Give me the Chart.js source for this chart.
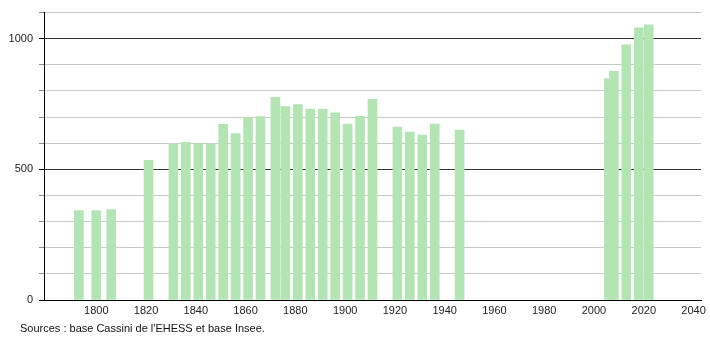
<!DOCTYPE html>
<html>
<head>
<meta charset="utf-8">
<script src="https://cdn.jsdelivr.net/npm/chart.js@4.4.1/dist/chart.umd.min.js"></script>
<style>
	html, body { margin: 0; padding: 0; background: #fff; }
	#wrap { position: relative; width: 710px; height: 340px; }
	#source {
		position: absolute; left: 20px; top: 322px;
		font: 11px "Liberation Sans", Arial, sans-serif; color: #111;
	}
</style>
</head>
<body>
<div id="wrap">
	<canvas id="popChart" width="710" height="340"></canvas>
	<div id="source">Sources : base Cassini de l'EHESS et base Insee.</div>
</div>
<script>
// census years and population
const years = [1793, 1800, 1806, 1821, 1831, 1836, 1841, 1846, 1851, 1856, 1861, 1866,
	1872, 1876, 1881, 1886, 1891, 1896, 1901, 1906, 1911, 1921, 1926, 1931, 1936, 1946,
	2006, 2008, 2013, 2018, 2022];
const population = [342, 342, 346, 535, 598, 603, 598, 598, 672, 637, 698, 702,
	776, 740, 748, 731, 731, 716, 673, 703, 768, 662, 643, 631, 673, 650,
	847, 875, 977, 1042, 1053];
const xTicks = [1800, 1820, 1840, 1860, 1880, 1900, 1920, 1940, 1960, 1980, 2000, 2020, 2040];
const yLabels = [0, 500, 1000];

const points = years.map((y, i) => ({ x: y, y: population[i] }));
const font = { family: "'Liberation Sans', Arial, sans-serif", size: 11 };

window.popChart = new Chart(document.getElementById("popChart"), {
	type: "bar",
	data: {
		datasets: [{
			data: points,
			backgroundColor: "#b3e4b3",
			borderWidth: 0,
			barThickness: 9
		}]
	},
	options: {
		responsive: false,
		animation: false,
		layout: { padding: { left: 0, right: 9, top: 10, bottom: 0 } },
		plugins: {
			legend: { display: false },
			tooltip: { enabled: false }
		},
		scales: {
			x: {
				type: "linear",
				offset: false,
				min: 1779,
				max: 2043,
				afterBuildTicks: (scale) => {
					scale.ticks = xTicks.map(v => ({ value: v }));
				},
				afterFit: (scale) => { scale.height = 40; },
				grid: { display: false, drawTicks: false, offset: false },
				border: { color: "#000", width: 1 },
				ticks: {
					color: "#222",
					font: font,
					padding: 4,
					maxRotation: 0,
					callback: (v) => String(v)
				}
			},
			y: {
				min: 0,
				max: 1100,
				afterFit: (scale) => { scale.width = 44; },
				grid: {
					color: (c) => (c.tick && (c.tick.value === 500 || c.tick.value === 1000)) ? "#333" : "#c8c8c8",
					tickColor: (c) => (c.tick && yLabels.includes(c.tick.value)) ? "#000" : "#888",
					tickLength: 5,
					lineWidth: 1
				},
				border: { color: "#000", width: 1 },
				ticks: {
					stepSize: 100,
					color: "#222",
					font: font,
					padding: 6,
					callback: (v) => yLabels.includes(v) ? String(v) : ""
				}
			}
		}
	}
});
</script>
</body>
</html>
